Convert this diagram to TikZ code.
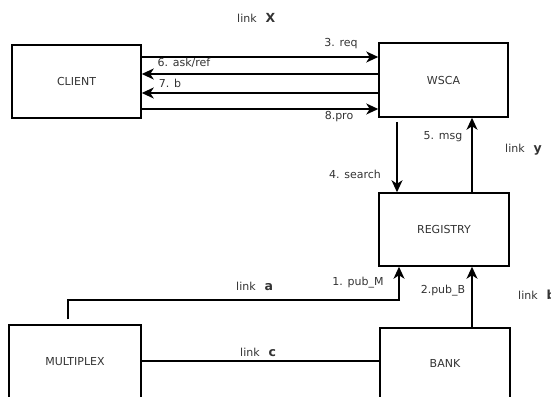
\documentclass[tikz,border=0pt]{standalone}
\usepackage{fontspec}
\setmainfont{DejaVu Sans}
\usetikzlibrary{arrows.meta}
\tikzstyle{ent}=[rectangle,draw=black,line width=1.5pt,text=black!80,font=\fontsize{11}{13}\selectfont]
\tikzstyle{msg}=[-{Stealth[length=12pt,width=11pt,inset=3.5pt]}, line width=1.5pt]
\tikzstyle{lbl}=[text=black!80,font=\fontsize{11}{13}\selectfont,inner sep=0pt]
\newcommand{\lnk}[1]{link\hspace{9pt}{\fontsize{12.5}{14}\selectfont\bfseries #1}}

\begin{document}
\begin{tikzpicture}[x=1pt,y=-1pt]
\useasboundingbox (0,0) rectangle (551,396);
\clip (0,0) rectangle (551,396);
\node[ent,minimum width=129pt,minimum height=73pt] (C) at (76.5,81.5) {CLIENT};
\node[ent,minimum width=129pt,minimum height=74pt] (W) at (443.5,80) {WSCA};
\node[ent,minimum width=130pt,minimum height=73pt] (R) at (444,229.5) {REGISTRY};
\node[ent,minimum width=132pt,minimum height=74pt] (M) at (75,362) {MULTIPLEX};
\node[ent,minimum width=130pt,minimum height=70pt] (B) at (445,363) {BANK};
\coordinate (elbow) at (399,300);
% client <-> wsca
\draw[msg](C.east |- 0,57)--(W.west |- 0,57);\draw[msg](W.west |- 0,74)--(C.east |- 0,74);
\draw[msg](W.west |- 0,93)--(C.east |- 0,93);\draw[msg](C.east |- 0,109)--(W.west |- 0,109);
% wsca <-> registry
\draw[msg,shorten <=4pt](W.south -| 397,0)--(R.north -| 397,0);\draw[msg](R.north -| 472,0)--(W.south -| 472,0);
% publishers
\draw[msg,shorten <=5pt](M.north -| 68,0)|-(elbow)--(R.south -| 399,0);\draw[msg](B.north -| 472,0)--(R.south -| 472,0);
\draw[line width=1.5pt](M.east |- 0,361)--(B.west |- 0,361);
% labels
\node[lbl] (l3) at (341,44) {3. req};
\node[lbl] (l6) at (184,63) {6. ask/ref};
\node[lbl] (l7) at (170,83) {7. b};
\node[lbl] (l8) at (339,117) {8.pro};
\node[lbl] (l5) at (443,137) {5. msg};
\node[lbl] (l4) at (355,174) {4. search};
\node[lbl] (l1) at (358,283) {1. pub\_M};
\node[lbl] (l2) at (443,291) {2.pub\_B};
\node[lbl,anchor=west] (lx) at (237,18) {\lnk{X}};
\node[lbl,anchor=west] (ly) at (505,150) {\lnk{y}};
\node[lbl,anchor=west] (la) at (236,286) {\lnk{a}};
\node[lbl,anchor=west] (lb) at (518,295) {\lnk{b}};
\node[lbl,anchor=west] (lc) at (240,352) {\lnk{c}};
\end{tikzpicture}
\end{document}
